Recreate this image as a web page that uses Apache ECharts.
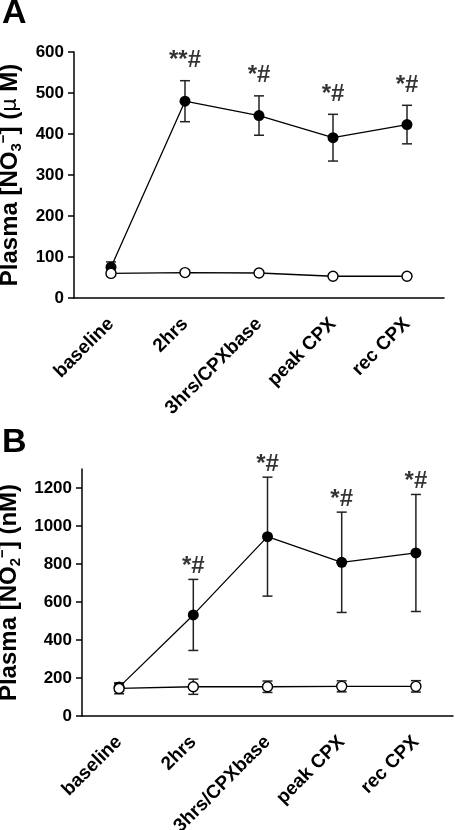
<!DOCTYPE html>
<html><head><meta charset="utf-8">
<script src="https://cdn.jsdelivr.net/npm/echarts@6/dist/echarts.min.js"></script>
<style>html,body{margin:0;padding:0;background:#fff}#c{width:455px;height:830px}</style>
</head><body><div id="c"></div>
<script>
const categories = ['baseline', '2hrs', '3hrs/CPXbase', 'peak CPX', 'rec CPX'];
const no3Filled = [75, 480, 445, 391, 423];
const no3FilledErr = [13, 50, 48, 57, 47];
const no3Open = [60, 62, 61, 53, 53];
const no3OpenErr = [3, 3, 3, 3, 3];
const no3Marks = ['', '**#', '*#', '*#', '*#'];
const no2Filled = [152, 532, 944, 809, 858];
const no2FilledErr = [22, 187, 313, 264, 308];
const no2Open = [145, 154, 154, 156, 156];
const no2OpenErr = [28, 40, 30, 29, 30];
const no2Marks = ['', '*#', '*#', '*#', '*#'];
const no3Ticks = [0, 100, 200, 300, 400, 500, 600];
const no2Ticks = [0, 200, 400, 600, 800, 1000, 1200];

const FONT = 'Liberation Sans';

function errSeries(mean, err, idx) {
  return {
    type: 'custom', xAxisIndex: idx, yAxisIndex: idx, z: 1, silent: true, clip: false,
    data: mean.map((m, i) => [i, m - err[i], m + err[i]]),
    renderItem(params, api) {
      const lo = api.coord([api.value(0), api.value(1)]);
      const hi = api.coord([api.value(0), api.value(2)]);
      const w = 5;
      const style = { stroke: '#222', lineWidth: 1.5 };
      return { type: 'group', children: [
        { type: 'line', shape: { x1: lo[0], y1: lo[1], x2: hi[0], y2: hi[1] }, style },
        { type: 'line', shape: { x1: lo[0] - w, y1: lo[1], x2: lo[0] + w, y2: lo[1] }, style },
        { type: 'line', shape: { x1: hi[0] - w, y1: hi[1], x2: hi[0] + w, y2: hi[1] }, style }
      ] };
    }
  };
}
function filledSeries(mean, idx) {
  return { type: 'line', xAxisIndex: idx, yAxisIndex: idx, z: 2, data: mean,
    symbol: 'circle', symbolSize: 11, itemStyle: { color: '#000' },
    lineStyle: { color: '#000', width: 1.3 }, silent: true };
}
function openSeries(mean, idx) {
  return { type: 'line', xAxisIndex: idx, yAxisIndex: idx, z: 3, data: mean,
    symbol: 'circle', symbolSize: 10, itemStyle: { color: '#fff', borderColor: '#000', borderWidth: 1.4 },
    lineStyle: { color: '#000', width: 1.3 }, silent: true };
}
function markSeries(mean, err, marks, idx, dist) {
  return { type: 'scatter', xAxisIndex: idx, yAxisIndex: idx, z: 4, clip: false, silent: true,
    symbolSize: 0, data: mean.map((m, i) => [i, m + err[i]]),
    label: { show: true, position: 'top', distance: dist,
      formatter: p => marks[p.dataIndex], fontFamily: FONT, fontWeight: 'bold', fontSize: 24, color: '#000' } };
}
function xAxis(idx) {
  return { type: 'category', gridIndex: idx, data: categories, boundaryGap: true,
    axisLine: { lineStyle: { color: '#000', width: 1.5 } },
    axisTick: { alignWithLabel: true, length: 9, lineStyle: { color: '#000', width: 1.5 } },
    axisLabel: { rotate: 45, margin: 23, interval: 0, fontFamily: FONT, fontWeight: 'bold', fontSize: 19, color: '#000' } };
}
function yAxis(idx, max, interval, ticks, name, gap) {
  return { type: 'value', gridIndex: idx, min: 0, max: max, interval: interval,
    splitLine: { show: false },
    axisLine: { show: true, lineStyle: { color: '#000', width: 1.5 } },
    axisTick: { show: true, length: 6, customValues: ticks, lineStyle: { color: '#000', width: 1.5 } },
    axisLabel: { customValues: ticks, margin: 10, formatter: v => String(v),
      fontFamily: FONT, fontWeight: 'bold', fontSize: 17, color: '#000' },
    name: name, nameLocation: 'middle', nameGap: gap,
    nameTextStyle: { fontFamily: FONT, fontWeight: 'bold', fontSize: 24, color: '#000', lineHeight: 28,
      rich: {
        sub: { fontFamily: FONT, fontWeight: 'bold', fontSize: 15, color: '#000', verticalAlign: 'bottom' },
        sup: { fontFamily: FONT, fontWeight: 'bold', fontSize: 15, color: '#000', verticalAlign: 'top' },
        mu: { fontFamily: 'DejaVu Sans', fontWeight: 'normal', fontSize: 21, color: '#000' }
      } } };
}

const chart = echarts.init(document.getElementById('c'), null, { renderer: 'canvas' });
chart.setOption({
  animation: false,
  backgroundColor: '#fff',
  title: [
    { text: 'A', left: 2, top: -3, padding: 0, textStyle: { fontFamily: FONT, fontWeight: 'bold', fontSize: 34, color: '#000' } },
    { text: 'B', left: 2, top: 426, padding: 0, textStyle: { fontFamily: FONT, fontWeight: 'bold', fontSize: 34, color: '#000' } }
  ],
  grid: [
    { left: 74, width: 370, top: 52, height: 246, containLabel: false, outerBoundsMode: 'none' },
    { left: 82, width: 371, top: 469, height: 247, containLabel: false, outerBoundsMode: 'none' }
  ],
  xAxis: [xAxis(0), xAxis(1)],
  yAxis: [
    yAxis(0, 600, 100, no3Ticks, 'Plasma [NO{sub|3}{sup|−}] ({mu|μ} M)', 44),
    yAxis(1, 1300, 100, no2Ticks, 'Plasma [NO{sub|2}{sup|−}] (nM)', 53)
  ],
  series: [
    errSeries(no3Filled, no3FilledErr, 0), errSeries(no3Open, no3OpenErr, 0),
    filledSeries(no3Filled, 0), openSeries(no3Open, 0),
    markSeries(no3Filled, no3FilledErr, no3Marks, 0, 8),
    errSeries(no2Filled, no2FilledErr, 1), errSeries(no2Open, no2OpenErr, 1),
    filledSeries(no2Filled, 1), openSeries(no2Open, 1),
    markSeries(no2Filled, no2FilledErr, no2Marks, 1, 1)
  ]
});
</script></body></html>
